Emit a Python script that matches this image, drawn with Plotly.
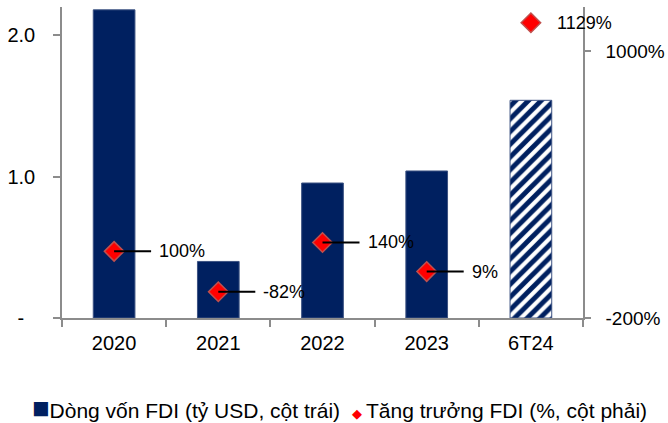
import plotly.graph_objects as go

categories = ["2020", "2021", "2022", "2023", "6T24"]
fdi_inflow = [2.18, 0.40, 0.955, 1.04, 1.54]          # tỷ USD, left axis
fdi_growth = [100, -82, 140, 9, 1129]                  # %, right axis
growth_labels = ["100%", "-82%", "140%", "9%", "1129%"]
bar_patterns = ["", "", "", "", "/"]

left_ticks = [0, 1, 2]
left_ticktext = ["-\u00a0\u00a0", "1.0", "2.0"]
right_ticks = [-200, 1000]
right_ticktext = ["-200%", "1000%"]

NAVY = "#002060"
RED = "#FF0000"
AXIS = "#8c8c8c"
FONT = "Liberation Sans, Arial, sans-serif"

fig = go.Figure()
fig.add_trace(go.Bar(
    x=categories, y=fdi_inflow, name="Dòng vốn FDI (tỷ USD, cột trái)",
    width=0.4,
    marker=dict(color=NAVY, line=dict(color="#3c5282", width=1),
                pattern=dict(shape=bar_patterns, fgcolor=NAVY, bgcolor="white",
                             size=9, solidity=0.55, fillmode="replace")),
    showlegend=False,
))
fig.add_trace(go.Scatter(
    x=categories, y=fdi_growth, yaxis="y2", mode="markers",
    name="Tăng trưởng FDI (%, cột phải)",
    marker=dict(symbol="diamond", size=15, color=RED,
                line=dict(color="#c0504d", width=1.5)),
    showlegend=False,
))

annotations = []
for i, (v, t) in enumerate(zip(fdi_growth, growth_labels)):
    if i < len(categories) - 1:
        annotations.append(dict(
            x=i, y=v, xref="x", yref="y2", text=t, showarrow=True,
            arrowhead=0, arrowwidth=2, arrowcolor="black", ax=37, ay=0,
            xanchor="left", yanchor="middle", borderpad=7, standoff=0,
            font=dict(size=18, color="black", family=FONT),
        ))
    else:
        annotations.append(dict(
            x=i, y=v, xref="x", yref="y2", text=t, showarrow=False,
            xanchor="left", yanchor="middle", xshift=24,
            font=dict(size=18, color="black", family=FONT),
        ))

legend_text = (
    f"<span style='color:{NAVY};font-size:29px'>■</span>Dòng vốn FDI (tỷ USD, cột trái)\u00a0 "
    f"<span style='color:{RED};font-size:13px'>◆</span>\u2009Tăng trưởng FDI (%, cột phải)"
)
annotations.append(dict(
    x=0.5335, y=-0.2894, xref="paper", yref="paper", text=legend_text,
    showarrow=False, xanchor="center", yanchor="middle",
    font=dict(size=21, color="black", family=FONT),
))

fig.update_layout(
    width=668, height=423,
    margin=dict(l=62, r=85, t=7, b=105, autoexpand=False),
    paper_bgcolor="white", plot_bgcolor="white",
    font=dict(family=FONT, size=20, color="black"),
    xaxis=dict(
        type="category", range=[-0.5, len(categories) - 0.5],
        showline=True, linecolor=AXIS, linewidth=1.5, automargin=False,
        ticks="outside", tickson="boundaries", ticklen=7, tickcolor=AXIS,
        tickwidth=1.5, showgrid=False, ticklabelstandoff=6,
        tickfont=dict(size=20), tickangle=0,
    ),
    yaxis=dict(
        range=[0, 2.2], tickvals=left_ticks, ticktext=left_ticktext,
        showline=True, linecolor=AXIS, linewidth=1.5, ticks="outside",
        ticklen=7, tickcolor=AXIS, tickwidth=1.5, showgrid=False,
        zeroline=False, ticklabelstandoff=14, tickfont=dict(size=20),
        automargin=False,
    ),
    yaxis2=dict(
        range=[-200, 1200], tickvals=right_ticks, ticktext=right_ticktext,
        overlaying="y", side="right", showline=True, linecolor=AXIS,
        linewidth=1.5, ticks="outside", ticklen=6, tickcolor=AXIS,
        tickwidth=1.5, showgrid=False, zeroline=False,
        ticklabelstandoff=11, tickfont=dict(size=19), automargin=False,
    ),
    annotations=annotations,
)

fig.write_html("out.html", config={"displayModeBar": False},
               post_script="document.body.style.margin='0';")
